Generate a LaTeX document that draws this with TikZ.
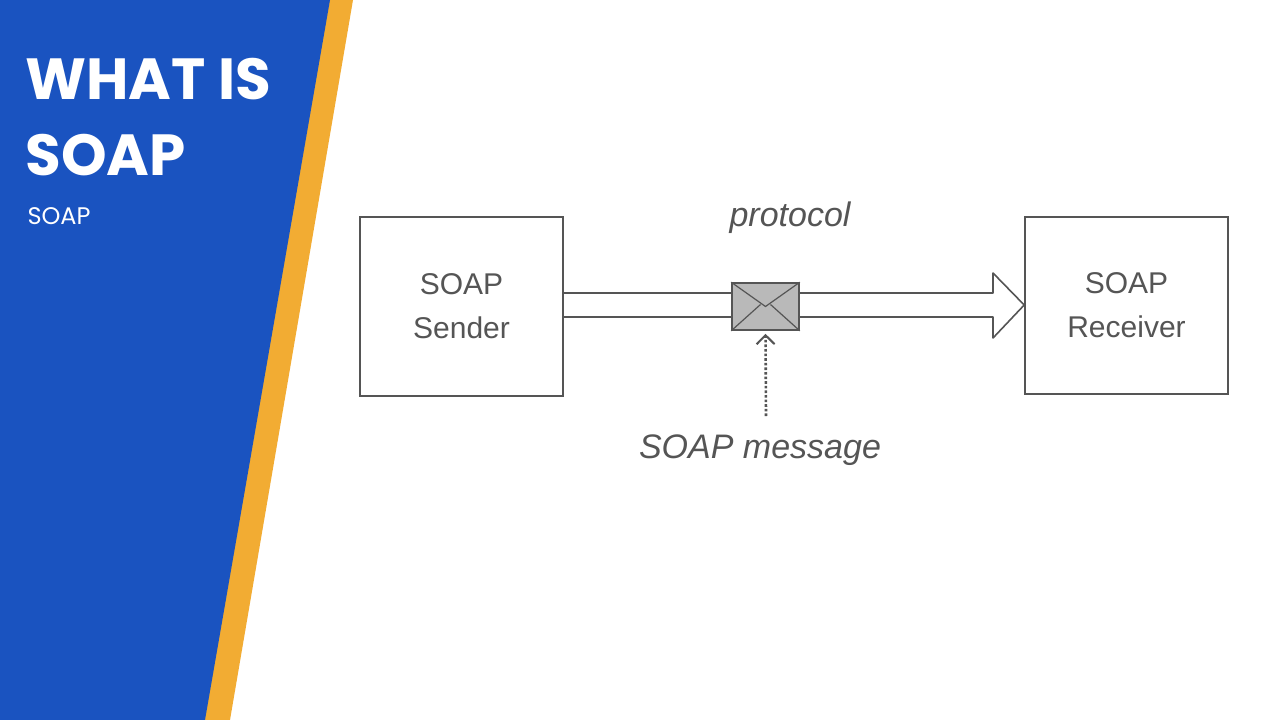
\documentclass[tikz,border=0pt]{standalone}
\usepackage{fontspec}
\setmainfont{Liberation Sans}
\newfontfamily\titlefont{Poppins}
\usetikzlibrary{arrows.meta,calc}
\definecolor{bblue}{HTML}{1A53C0}
\definecolor{borange}{HTML}{F2AC33}
\definecolor{dgray}{HTML}{555555}
\begin{document}
\begin{tikzpicture}[x=1pt,y=-1pt,
  box/.style={draw=dgray,line width=1.6pt},
  lbl/.style={text=dgray,font=\fontsize{30}{44}\selectfont,align=center}]
\useasboundingbox (0,0) rectangle (1280,720);
\fill[white] (0,0) rectangle (1280,720);
\fill[borange] (0,0) -- (353,0) -- (230,720) -- (0,720) -- cycle;
\fill[bblue] (0,0) -- (330,0) -- (205,720) -- (0,720) -- cycle;
\node[anchor=west,text=white,font=\titlefont\bfseries\fontsize{58}{76}\selectfont,align=left] (title) at (22,117) {WHAT IS\\SOAP};
\node[anchor=west,text=white,font=\titlefont\fontsize{24}{30}\selectfont] (sub) at (24,216) {SOAP};
\node[box,minimum width=203pt,minimum height=179pt,lbl] (snd) at (461.5,306.5) {SOAP\\Sender};
\node[box,minimum width=203pt,minimum height=177pt,lbl] (rcv) at (1126.5,305.5) {SOAP\\Receiver};
\coordinate (a1) at (snd.east |- 0,293);
\coordinate (a2) at (snd.east |- 0,317);
\draw[dgray,line width=1.6pt,line join=round] (a1) -- (993,293) -- (993,273) -- (rcv.west |- 0,305) -- (993,338) -- (993,317) -- (a2);
\node[draw=dgray,line width=1.6pt,fill=gray!55,minimum width=67pt,minimum height=47pt,inner sep=0] (env) at (765.5,306.5) {};
\draw[dgray,line width=1.2pt] (env.north west) -- (env.center) -- (env.north east);
\draw[dgray,line width=1.2pt] (env.south west) -- ($(env.center)+(-5,-2)$) (env.south east) -- ($(env.center)+(5,-2)$);
\node[lbl,font=\itshape\fontsize{34}{38}\selectfont] (prot) at (790,218) {protocol};
\node[lbl,font=\itshape\fontsize{34}{38}\selectfont] (msg) at (760,450) {SOAP message};
\draw[dgray,line width=2.6pt,dash pattern=on 2.6pt off 2pt,-{Straight Barb[length=9pt,width=18pt,line width=2pt,sep=3pt]}] (766,416) -- (env.south);
\end{tikzpicture}
\end{document}
